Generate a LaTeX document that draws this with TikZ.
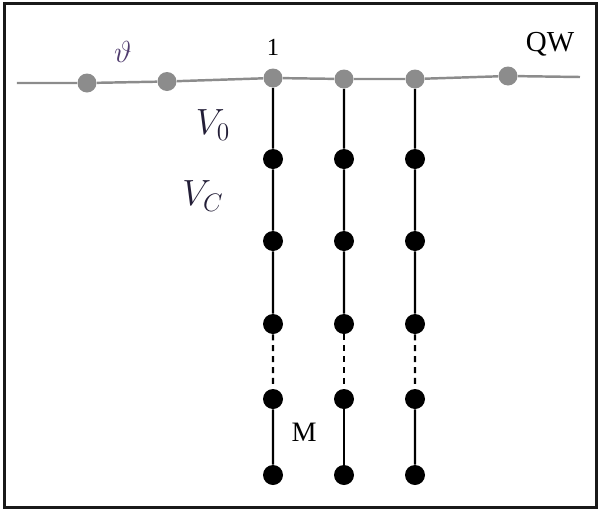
\documentclass[tikz,border=0pt]{standalone}
\usepackage{fontspec}
\setmainfont{Liberation Serif}
\usepackage{amsmath}
\usetikzlibrary{positioning}
\definecolor{qwgrey}{RGB}{140,140,140}
\definecolor{framegrey}{RGB}{25,25,25}
\definecolor{labelnavy}{RGB}{35,30,55}
\definecolor{thetacol}{RGB}{80,60,110}

\begin{document}
\begin{tikzpicture}[scale=0.2]
\tikzstyle{every node}+=[inner sep=0pt]
\tikzstyle{qwdot}=[circle,fill=qwgrey,minimum size=0.38cm]
\tikzstyle{mdot}=[circle,fill=black,minimum size=0.4cm]
\tikzstyle{qwline}=[qwgrey,line width=1.4pt]
\tikzstyle{mline}=[black,line width=1.3pt]
\tikzstyle{gapline}=[black,line width=1.3pt,dash pattern=on 3.4pt off 2.8pt]
\useasboundingbox (0,0) rectangle (59.8,-51);
\draw [framegrey,line width=1.2pt] (0.45,-0.35) rectangle (59.65,-50.75);
% quantum walk line
\coordinate (qwstart) at (1.7,-8.3);
\coordinate (qwend) at (58,-7.7);
\draw (8.7,-8.3) node [qwdot] (q1) {};
\draw (16.7,-8.15) node [qwdot] (q2) {};
\draw (27.3,-7.8) node [qwdot] (q3) {};
\draw (34.4,-7.9) node [qwdot] (q4) {};
\draw (41.5,-7.9) node [qwdot] (q5) {};
\draw (50.8,-7.6) node [qwdot] (q6) {};
\draw [qwline] (qwstart) -- (q1) -- (q2) -- (q3) -- (q4) -- (q5) -- (q6) -- (qwend);
% first chain
\draw (27.3,-15.9) node [mdot] (a1) {};
\draw (27.3,-24.1) node [mdot] (a2) {};
\draw (27.3,-32.4) node [mdot] (a3) {};
\draw (27.3,-39.9) node [mdot] (a4) {};
\draw (27.3,-47.5) node [mdot] (a5) {};
\draw [mline] (q3) -- (a1) -- (a2) -- (a3);
\draw [gapline] (a3) -- (a4);
\draw [mline] (a4) -- (a5);
% second chain
\draw (34.4,-15.9) node [mdot] (b1) {};
\draw (34.4,-24.1) node [mdot] (b2) {};
\draw (34.4,-32.4) node [mdot] (b3) {};
\draw (34.4,-39.9) node [mdot] (b4) {};
\draw (34.4,-47.5) node [mdot] (b5) {};
\draw [mline] (q4) -- (b1) -- (b2) -- (b3);
\draw [gapline] (b3) -- (b4);
\draw [mline] (b4) -- (b5);
% third chain
\draw (41.5,-15.9) node [mdot] (c1) {};
\draw (41.5,-24.1) node [mdot] (c2) {};
\draw (41.5,-32.4) node [mdot] (c3) {};
\draw (41.5,-39.9) node [mdot] (c4) {};
\draw (41.5,-47.5) node [mdot] (c5) {};
\draw [mline] (q5) -- (c1) -- (c2) -- (c3);
\draw [gapline] (c3) -- (c4);
\draw [mline] (c4) -- (c5);
% labels
\draw (12.3,-5.2) node [text=thetacol] (theta) {\fontsize{17}{19}\selectfont$\vartheta$};
\draw (27.3,-4.75) node (one) {\fontsize{14}{16}\selectfont 1};
\draw (55,-4.4) node (qw) {\fontsize{16.5}{18}\selectfont QW};
\draw (21.3,-12.5) node [text=labelnavy] (vzero) {\fontsize{20}{24}\selectfont$V_0$};
\draw (20.3,-19.6) node [text=labelnavy] (vc) {\fontsize{20}{24}\selectfont$V_C$};
\draw (30.4,-43.2) node (mlabel) {\fontsize{16}{18}\selectfont M};
\end{tikzpicture}
\end{document}
